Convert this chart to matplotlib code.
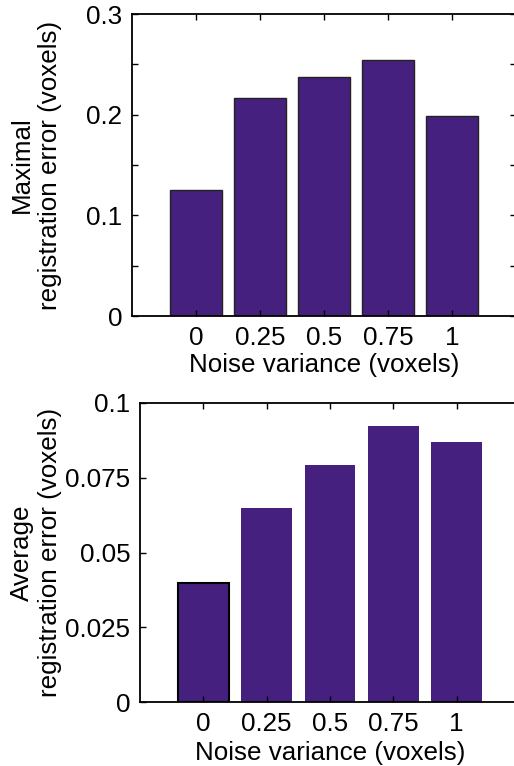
import matplotlib
matplotlib.use("Agg")
import matplotlib.pyplot as plt
from matplotlib.ticker import FixedLocator, MultipleLocator

plt.rcParams['font.family'] = ['Liberation Sans', 'DejaVu Sans']

noise_labels = ['0', '0.25', '0.5', '0.75', '1']
max_error = [0.125, 0.2165, 0.237, 0.254, 0.199]
avg_error = [0.0398, 0.0649, 0.0792, 0.0923, 0.087]

bar_color = '#45207e'
fs = 18.7


def style_axes(ax, xpad):
    for sp in ax.spines.values():
        sp.set_linewidth(1.3)
    ax.tick_params(direction='in', length=4, width=1, top=True, right=True,
                   labelsize=fs, pad=7)
    ax.set_xlim(0, 6)
    ax.set_xticks(range(1, 6))
    ax.set_xticklabels(noise_labels)
    ax.set_xlabel('Noise variance (voxels)', fontsize=fs, labelpad=xpad)


fig = plt.figure(figsize=(5.14, 7.66), dpi=100)

# top panel: maximal error
ax1 = fig.add_axes([132 / 514, 1 - 316 / 766, 384 / 514, 302 / 766])
ax1.bar(range(1, 6), max_error, width=0.8, color=bar_color,
        edgecolor='#222222', linewidth=1)
style_axes(ax1, 2)
ax1.set_ylim(0, 0.3)
ax1.yaxis.set_major_locator(FixedLocator([0, 0.1, 0.2, 0.3]))
ax1.set_yticklabels(['0', '0.1', '0.2', '0.3'])
ax1.yaxis.set_minor_locator(MultipleLocator(0.05))
ax1.tick_params(which='minor', direction='in', length=4, width=1, right=True)
ax1.set_ylabel('Maximal\nregistration error (voxels)', fontsize=fs,
               multialignment='center')
ax1.yaxis.set_label_coords(-0.182, 0.5)

# bottom panel: average error
ax2 = fig.add_axes([140 / 514, 1 - 702 / 766, 380 / 514, 299 / 766])
bars = ax2.bar(range(1, 6), avg_error, width=0.8, color=bar_color,
               edgecolor=bar_color, linewidth=0)
bars[0].set_edgecolor('black')
bars[0].set_linewidth(1.5)
style_axes(ax2, 4)
ax2.set_ylim(0, 0.1)
ax2.set_yticks([0, 0.025, 0.05, 0.075, 0.1])
ax2.set_yticklabels(['0', '0.025', '0.05', '0.075', '0.1'])
ax2.set_ylabel('Average\nregistration error (voxels)', fontsize=fs,
               multialignment='center')
ax2.yaxis.set_label_coords(-0.205, 0.5)

fig.savefig('out.png', dpi=100)
